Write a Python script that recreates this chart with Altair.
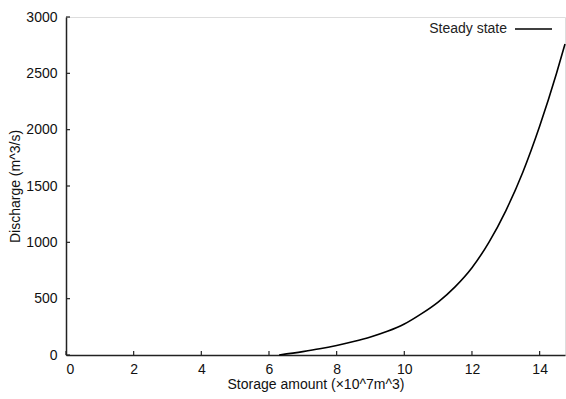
import altair as alt
import pandas as pd

storage = [6.3, 7.0, 7.5, 8.0, 8.5, 9.0, 9.5, 10.0, 10.5, 11.0, 11.5, 12.0, 12.5, 13.0, 13.5, 14.0, 14.5, 14.75]
discharge = [0, 30, 55, 85, 120, 160, 210, 275, 365, 470, 605, 775, 1000, 1280, 1620, 2030, 2500, 2760]
x_ticks = [0, 2, 4, 6, 8, 10, 12, 14]
y_ticks = [0, 500, 1000, 1500, 2000, 2500, 3000]
series_name = "Steady state"

W, H = 499, 338
FONT = "Liberation Sans"

df = pd.DataFrame({"x": storage, "y": discharge})
xt = pd.DataFrame({"x": x_ticks})
yt = pd.DataFrame({"y": y_ticks})

xscale = alt.Scale(domain=[0, 14.75], nice=False, zero=False)
yscale = alt.Scale(domain=[0, 3000], nice=False)

line = alt.Chart(df).mark_line(color="black", strokeWidth=1.6, interpolate="monotone").encode(
    x=alt.X("x:Q", scale=xscale,
            axis=alt.Axis(values=x_ticks, title="Storage amount (×10^7m^3)", grid=False,
                          tickSize=0, labelPadding=7, domainColor="#222", domainWidth=1.5,
                          labelFont=FONT, labelFontSize=14, labelColor="#111", format="d",
                          titleFont=FONT, titleFontSize=14, titleFontWeight="normal",
                          titleColor="#111", titlePadding=1)),
    y=alt.Y("y:Q", scale=yscale,
            axis=alt.Axis(values=y_ticks, title="Discharge (m^3/s)", grid=False,
                          tickSize=0, labelPadding=9, domainColor="#222", domainWidth=1.5,
                          labelFont=FONT, labelFontSize=14, labelColor="#111", format="d",
                          titleFont=FONT, titleFontSize=14, titleFontWeight="normal",
                          titleColor="#111", titlePadding=3)),
)

xticks = alt.Chart(xt).mark_rule(color="#222", strokeWidth=1.2).encode(
    x=alt.X("x:Q", scale=xscale), y=alt.value(H), y2=alt.value(H - 4))
yticks = alt.Chart(yt).mark_rule(color="#222", strokeWidth=1.2).encode(
    y=alt.Y("y:Q", scale=yscale), x=alt.value(0), x2=alt.value(4))

leg = pd.DataFrame({"name": [series_name]})
leg_text = alt.Chart(leg).mark_text(align="right", baseline="middle", font=FONT,
                                    fontSize=14, color="#222").encode(
    text="name:N", x=alt.value(441), y=alt.value(12))
leg_line = alt.Chart(leg).mark_rule(color="black", strokeWidth=1.6).encode(
    x=alt.value(449), x2=alt.value(486), y=alt.value(12))

chart = alt.layer(line, xticks, yticks, leg_text, leg_line).properties(
    width=W, height=H,
    autosize=alt.AutoSizeParams(type="none"),
    padding={"left": 66, "top": 17, "right": 1, "bottom": 44},
).configure_view(stroke=None).configure(background="white")

chart.save("out.html", embed_options={"renderer": "svg", "actions": False})
